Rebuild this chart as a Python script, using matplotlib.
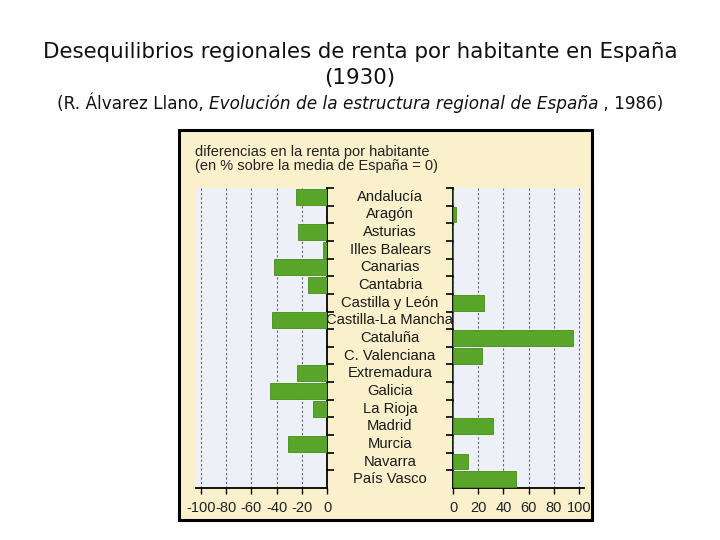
import matplotlib
matplotlib.use("Agg")
import matplotlib.pyplot as plt
from matplotlib.patches import Rectangle

regions = ["Andalucía", "Aragón", "Asturias", "Illes Balears", "Canarias",
           "Cantabria", "Castilla y León", "Castilla-La Mancha", "Cataluña",
           "C. Valenciana", "Extremadura", "Galicia", "La Rioja", "Madrid",
           "Murcia", "Navarra", "País Vasco"]
# difference vs Spanish mean (%)
values = [-25, 2, -23, -3, -42, -15, 25, -44, 95, 23, -24, -45, -11, 32, -31, 12, 50]
ticks_left = [-100, -80, -60, -40, -20, 0]
ticks_right = [0, 20, 40, 60, 80, 100]

W, H = 720, 540
fig = plt.figure(figsize=(7.2, 5.4), dpi=100)
fig.patch.set_facecolor("white")
narrow = ["Liberation Sans", "DejaVu Sans"]

def fx(px):
    return px / W

def fy(py):
    return 1 - py / H

# titles
fig.text(0.5, fy(52), "Desequilibrios regionales de renta por habitante en España",
         ha="center", va="center", fontsize=15.4, color="#111111")
fig.text(0.5, fy(78), "(1930)", ha="center", va="center", fontsize=15.4, color="#111111")

# subtitle with italic book title, laid out piece by piece
parts = [("(R. Álvarez Llano, ", "normal"),
         ("Evolución de la estructura regional de España", "italic"),
         (" , 1986)", "normal")]
renderer = fig.canvas.get_renderer()
texts = []
for s, style in parts:
    t = fig.text(0, fy(104), s, ha="left", va="center", fontsize=12.2,
                 style=style, color="#111111")
    texts.append(t)
widths = [t.get_window_extent(renderer).width for t in texts]
x = (W - sum(widths)) / 2
for t, w in zip(texts, widths):
    t.set_x(x / W)
    x += w

# chart box (background layer)
bg = fig.add_axes([0, 0, 1, 1], zorder=-5)
bg.set_xlim(0, W)
bg.set_ylim(H, 0)
bg.axis("off")
bg.add_patch(Rectangle((179, 130), 592 - 179, 520 - 130, facecolor="#faf1cc",
                       edgecolor="black", linewidth=2.2))
bg.text(195, 145, "diferencias en la renta por habitante\n(en % sobre la media de España = 0)",
        ha="left", va="top", fontsize=10.5, color="#222222", linespacing=1.0,
        family=narrow)

top, bottom = 188, 488
n = len(regions)
ax_l = fig.add_axes([fx(196), fy(bottom), fx(327) - fx(196), fy(top) - fy(bottom)])
ax_r = fig.add_axes([fx(453), fy(bottom), fx(584) - fx(453), fy(top) - fy(bottom)])

pos = list(range(n))
neg_vals = [min(v, 0) for v in values]
pos_vals = [max(v, 0) for v in values]

bar_col = "#58a52a"
for ax, vals, lim, ticks in [(ax_l, neg_vals, (-104, 0), ticks_left),
                             (ax_r, pos_vals, (0, 104), ticks_right)]:
    ax.set_facecolor("#eef0f8")
    ax.barh(pos, vals, height=0.9, color=bar_col, edgecolor="#438c1c",
            linewidth=0.6, zorder=3)
    ax.set_xlim(*lim)
    ax.set_ylim(n - 0.5, -0.5)
    for t in ticks:
        ax.axvline(t, color="#666666", linestyle=(0, (2, 2)), linewidth=0.8, zorder=1)
    ax.set_xticks(ticks)
    ax.set_xticklabels([str(t) for t in ticks], fontsize=10.5, family=narrow,
                       color="#222222")
    ax.tick_params(axis="x", length=4, width=1, direction="out", pad=5)
    ax.set_yticks([i - 0.5 for i in range(n)])
    ax.set_yticklabels([])
    for sp in ax.spines.values():
        sp.set_visible(False)
    ax.spines["bottom"].set_visible(True)
    ax.spines["bottom"].set_linewidth(1.3)

ax_l.spines["right"].set_visible(True)
ax_l.spines["right"].set_linewidth(1.3)
ax_l.yaxis.tick_right()
ax_l.tick_params(axis="y", length=5, width=1.2, direction="out")

ax_r.spines["left"].set_visible(True)
ax_r.spines["left"].set_linewidth(1.3)
ax_r.yaxis.tick_left()
ax_r.tick_params(axis="y", length=5, width=1.2, direction="out")

# region names in the central column
for i, name in enumerate(regions):
    ax_l.annotate(name, xy=(1, i), xycoords=("axes fraction", "data"),
                  xytext=(63, 0), textcoords="offset pixels",
                  ha="center", va="center", fontsize=10.6, color="#1a1a1a",
                  family=narrow, annotation_clip=False)

fig.savefig("out.png", dpi=100)
